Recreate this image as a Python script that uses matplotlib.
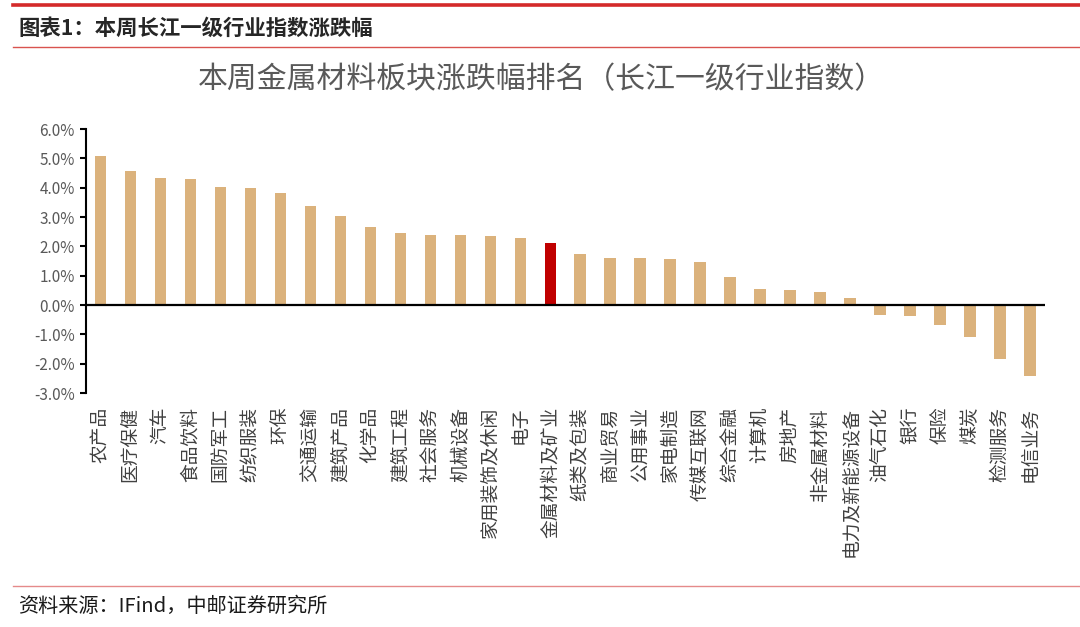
import matplotlib
matplotlib.use('Agg')
from matplotlib import pyplot as plt
from matplotlib.lines import Line2D
from matplotlib.ticker import FuncFormatter

plt.rcParams['font.family'] = ['Noto Sans CJK SC', 'DejaVu Sans']

# 长江一级行业, 本周涨跌幅 (%)
industries = ['农产品', '医疗保健', '汽车', '食品饮料', '国防军工', '纺织服装', '环保',
              '交通运输', '建筑产品', '化学品', '建筑工程', '社会服务', '机械设备',
              '家用装饰及休闲', '电子', '金属材料及矿业', '纸类及包装', '商业贸易',
              '公用事业', '家电制造', '传媒互联网', '综合金融', '计算机', '房地产',
              '非金属材料', '电力及新能源设备', '油气石化', '银行', '保险', '煤炭',
              '检测服务', '电信业务']
changes = [5.08, 4.57, 4.34, 4.29, 4.03, 3.98, 3.81, 3.36, 3.02, 2.66, 2.45, 2.40,
           2.40, 2.36, 2.27, 2.13, 1.73, 1.61, 1.61, 1.56, 1.47, 0.94, 0.54, 0.50,
           0.46, 0.23, -0.33, -0.39, -0.69, -1.09, -1.83, -2.41]
highlight = '金属材料及矿业'
y_ticks = [-3, -2, -1, 0, 1, 2, 3, 4, 5, 6]

header = '图表1：本周长江一级行业指数涨跌幅'
chart_title = '本周金属材料板块涨跌幅排名（长江一级行业指数）'
source = '资料来源：IFind，中邮证券研究所'

W, H = 1080, 627
fig = plt.figure(figsize=(W / 100, H / 100), dpi=100)

# header and footer rules
fig.add_artist(Line2D([0.012, 1.0], [1 - 4.5 / H, 1 - 4.5 / H], color='#d42a2a', lw=2.6))
fig.add_artist(Line2D([0.012, 1.0], [1 - 47 / H, 1 - 47 / H], color='#d9534f', lw=1.0))
fig.add_artist(Line2D([0.012, 1.0], [1 - 586 / H, 1 - 586 / H], color='#e58a8a', lw=1.0))
fig.text(18 / W, 1 - 28 / H, header, fontsize=15.4, fontweight='bold', color='#262626',
         va='center', ha='left')
fig.text(18 / W, 1 - 606 / H, source, fontsize=14.5, color='#1a1a1a', va='center', ha='left')
fig.text(541 / W, 1 - 80 / H, chart_title, fontsize=21.5, color='#595959',
         va='center', ha='center')

ax = fig.add_axes([86 / W, 1 - 393 / H, (1045 - 86) / W, (393 - 129) / H])
x = list(range(len(industries)))
colors = ['#c00000' if n == highlight else '#dbb27c' for n in industries]
ax.bar(x, changes, width=0.37, color=colors, zorder=2)
ax.axhline(0, color='black', lw=1.6, zorder=3)

ax.set_xlim(-0.47, len(industries) - 0.5)
ax.set_ylim(-3, 6)
ax.set_yticks(y_ticks)
ax.yaxis.set_major_formatter(FuncFormatter(lambda v, p: f'{v:.1f}%'))
ax.tick_params(axis='y', direction='out', length=4, width=1.5, color='black',
               labelsize=11, labelcolor='#595959', pad=4)
for s in ['top', 'right', 'bottom']:
    ax.spines[s].set_visible(False)
ax.spines['left'].set_linewidth(1.5)

ax.set_xticks(x)
ax.set_xticklabels(industries, fontsize=13.5, color='#404040', rotation=90,
                   ha='center', va='top')
ax.tick_params(axis='x', length=0, pad=10)

fig.savefig('out.png', dpi=100)
